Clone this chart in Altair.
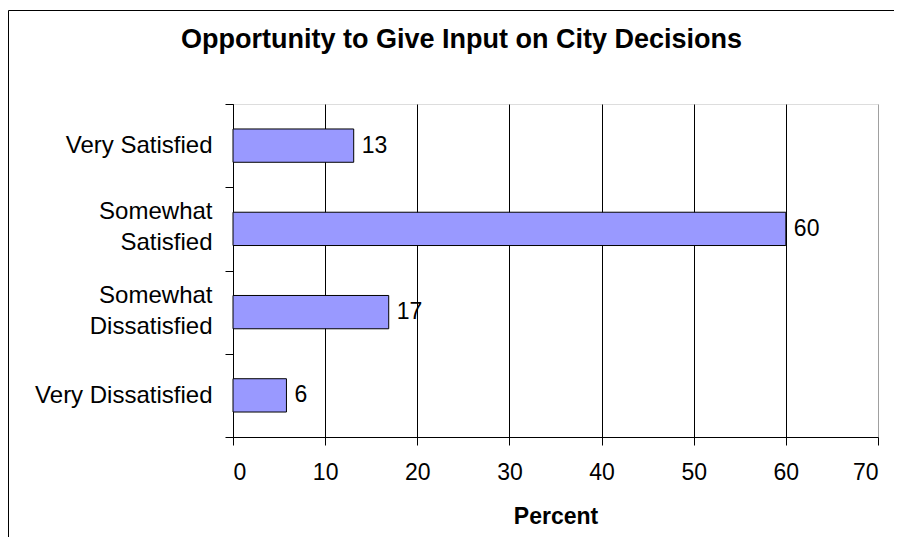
import altair as alt
import pandas as pd

categories = ["Very Satisfied", "Somewhat Satisfied", "Somewhat Dissatisfied", "Very Dissatisfied"]
values = [13.1, 60.0, 16.9, 5.8]
labels = [13, 60, 17, 6]
x_ticks = [0, 10, 20, 30, 40, 50, 60, 70]

df = pd.DataFrame({"category": categories, "value": values, "label": labels})

FONT = "Liberation Sans"

y_enc = alt.Y(
    "category:N",
    sort=categories,
    title=None,
    scale=alt.Scale(paddingInner=0, paddingOuter=0),
    axis=alt.Axis(
        tickBand="extent",
        labelExpr=(
            "datum.label == 'Somewhat Satisfied' ? ['Somewhat', 'Satisfied'] : "
            "datum.label == 'Somewhat Dissatisfied' ? ['Somewhat\u00a0', 'Dissatisfied'] : datum.label"
        ),
        labelOffset={
            "condition": {"test": "indexof(datum.label, 'Somewhat') == 0", "value": -17},
            "value": 0,
        },
        labelFont=FONT,
        labelFontSize=24,
        labelColor="black",
        labelLineHeight=31,
        labelPadding=13,
        tickSize=8,
        tickColor="black",
        domainColor="black",
        grid=False,
    ),
)

x_enc = alt.X(
    "value:Q",
    title="Percent",
    scale=alt.Scale(domain=[0, 70], nice=False),
    axis=alt.Axis(
        values=x_ticks,
        labelFont=FONT,
        labelFontSize=23,
        labelColor="black",
        labelPadding=16,
        tickSize=8,
        tickColor="black",
        domainColor="black",
        grid=True,
        gridColor={"condition": {"test": "datum.value == 70", "value": "#a0a0a0"}, "value": "black"},
        gridWidth=1,
        titleFont=FONT,
        titleFontSize=23,
        titleFontWeight="bold",
        titleColor="black",
        titlePadding=21,
    ),
)

base = alt.Chart(df)

bars = base.mark_bar(
    height={"band": 0.4}, fill="#9999FF", stroke="black", strokeWidth=1
).encode(x=x_enc, y=y_enc)

text = base.mark_text(
    align="left", baseline="middle", dx=8, font=FONT, fontSize=23, color="black"
).encode(x="value:Q", y=alt.Y("category:N", sort=categories), text=alt.Text("label:Q"))

border = alt.Chart(pd.DataFrame({"a": [0]})).mark_rect(
    filled=False, stroke="black", strokeWidth=1
).encode(
    x=alt.value(-224.5), x2=alt.value(900), y=alt.value(-93.5), y2=alt.value(700)
)

chart = alt.layer(bars, text, border).properties(
    width=645,
    height=333,
    title=alt.Title(
        "Opportunity to Give Input on City Decisions",
        font=FONT,
        fontSize=27,
        fontWeight="bold",
        color="black",
        anchor="middle",
        dx=-94,
        offset=-44,
    ),
    autosize=alt.AutoSizeParams(type="none"),
    padding={"left": 225, "top": 96, "right": 16, "bottom": 100},
).configure_view(stroke="#a0a0a0", strokeWidth=1).configure(background="white")

chart.save("out.html", embed_options={"renderer": "svg", "actions": False})
